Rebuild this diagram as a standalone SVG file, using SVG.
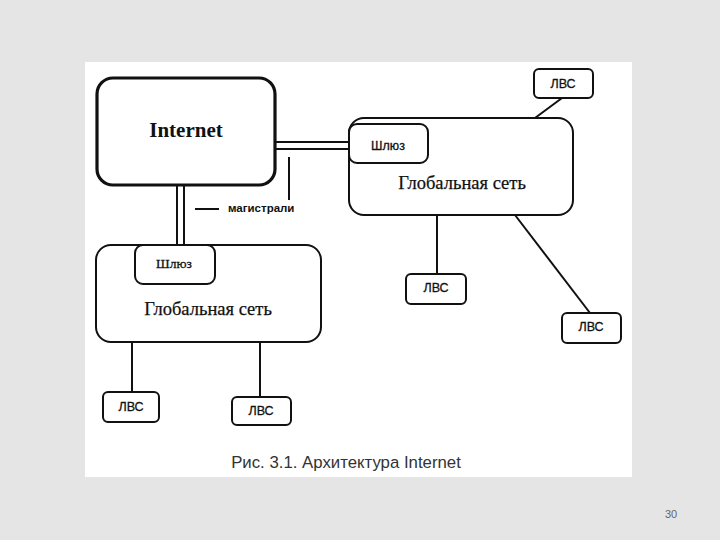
<svg xmlns="http://www.w3.org/2000/svg" width="720" height="540" viewBox="0 0 720 540">
<style>
.box{fill:#fff;stroke:#111;stroke-width:2}
.thick{stroke-width:3.2}
.ln{stroke:#111;stroke-width:2;fill:none}
.sans{font-family:"Liberation Sans",Arial,sans-serif;fill:#111}
.serif{font-family:"Liberation Serif","Times New Roman",serif;fill:#111}
.lbl{font-size:12.5px;text-anchor:middle;stroke:#111;stroke-width:0.3}
.glob{font-size:18.5px;text-anchor:middle;stroke:#111;stroke-width:0.25}
</style>
<rect x="0" y="0" width="720" height="540" fill="#e5e5e5"/>
<rect x="85" y="62" width="547" height="415" fill="#fff"/>
<g id="connectors">
<line class="ln" x1="275" y1="142" x2="350" y2="142"/>
<line class="ln" x1="275" y1="149" x2="350" y2="149"/>
<line class="ln" x1="177" y1="185" x2="177" y2="246"/>
<line class="ln" x1="184" y1="185" x2="184" y2="246"/>
<line class="ln" x1="289" y1="157" x2="289" y2="200"/>
<line class="ln" x1="195" y1="209" x2="219" y2="209"/>
<line class="ln" x1="535" y1="118" x2="562" y2="98"/>
<line class="ln" x1="437" y1="215" x2="437" y2="274"/>
<line class="ln" x1="515" y1="215" x2="590" y2="313"/>
<line class="ln" x1="132" y1="342" x2="132" y2="392"/>
<line class="ln" x1="260" y1="342" x2="260" y2="397"/>
</g>
<g id="internet">
<rect class="box thick" x="97" y="78" width="178" height="107" rx="16"/>
<text class="serif" x="186" y="137" font-size="21" font-weight="bold" text-anchor="middle">Internet</text>
</g>
<g id="magistrali">
<text class="sans" x="228" y="212" font-size="11.5" font-weight="bold">магистрали</text>
</g>
<g id="global-right">
<rect class="box" x="349" y="118" width="224" height="97" rx="15"/>
<text class="serif glob" x="462" y="189">Глобальная сеть</text>
</g>
<g id="gateway-right">
<rect class="box" x="349" y="124" width="79" height="39" rx="8"/>
<text class="sans lbl" x="388" y="150">Шлюз</text>
</g>
<g id="global-left">
<rect class="box" x="96" y="245" width="225" height="97" rx="15"/>
<text class="serif glob" x="208" y="315">Глобальная сеть</text>
</g>
<g id="gateway-left">
<rect class="box" x="135" y="245" width="80" height="39" rx="8"/>
<text class="serif lbl" x="174" y="268" style="font-size:13.5px">Шлюз</text>
</g>
<g id="lvs-top">
<rect class="box" x="534" y="69" width="59" height="29" rx="5"/>
<text class="sans lbl" x="563" y="88">ЛВС</text>
</g>
<g id="lvs-mid">
<rect class="box" x="406" y="274" width="60" height="30" rx="5"/>
<text class="sans lbl" x="436" y="292">ЛВС</text>
</g>
<g id="lvs-right">
<rect class="box" x="562" y="313" width="59" height="30" rx="5"/>
<text class="sans lbl" x="591" y="331">ЛВС</text>
</g>
<g id="lvs-bl">
<rect class="box" x="103" y="392" width="56" height="30" rx="5"/>
<text class="sans lbl" x="131" y="411">ЛВС</text>
</g>
<g id="lvs-bm">
<rect class="box" x="232" y="397" width="59" height="28" rx="5"/>
<text class="sans lbl" x="261" y="415">ЛВС</text>
</g>
<text class="sans" x="346" y="468" font-size="16.8" text-anchor="middle" style="fill:#333">Рис. 3.1. Архитектура Internet</text>
<text x="671" y="518" font-family="Liberation Sans,Arial,sans-serif" font-size="11" fill="#666" text-anchor="middle">30</text>
</svg>
